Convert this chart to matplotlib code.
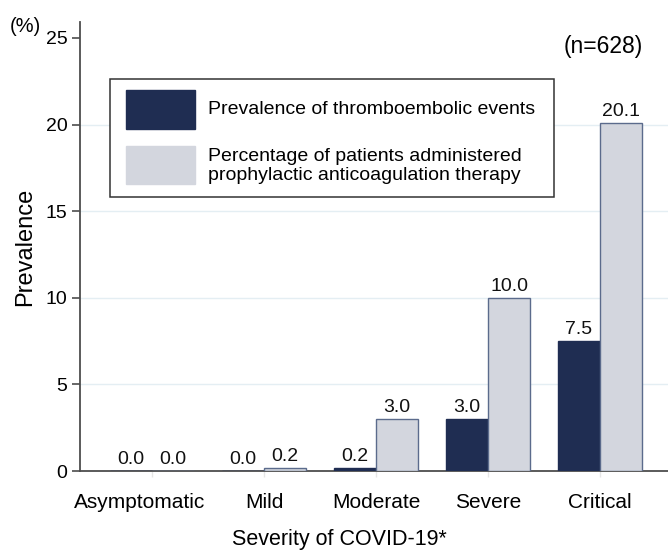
import numpy as np
import matplotlib
matplotlib.use("Agg")
import matplotlib.pyplot as plt
import matplotlib.transforms as mtransforms
from matplotlib.patches import Rectangle

plt.rcParams['font.family'] = ['Liberation Sans', 'DejaVu Sans']

# data
categories = ['Asymptomatic', 'Mild', 'Moderate', 'Severe', 'Critical']
thrombo = [0.0, 0.0, 0.2, 3.0, 7.5]
anticoag = [0.0, 0.2, 3.0, 10.0, 20.1]
yticks = [0, 5, 10, 15, 20, 25]
legend_labels = ['Prevalence of thromboembolic events',
                 'Percentage of patients administered\nprophylactic anticoagulation therapy']

dark = '#1f2d52'
light = '#d3d6de'
light_edge = '#5b6b8c'
axis_col = '#4d4d4d'

fig = plt.figure(figsize=(6.68, 5.5), dpi=100)
ax = fig.add_axes([80/668, 79/550, 588/668, 449/550])

x = np.arange(len(categories))
w = 0.375
b1 = ax.bar(x - w/2, thrombo, w, color=dark, edgecolor=dark, linewidth=1, zorder=3)
b2 = ax.bar(x + w/2, anticoag, w, color=light, edgecolor=light_edge, linewidth=1, zorder=3)

for bars, vals in [(b1, thrombo), (b2, anticoag)]:
    for r, v in zip(bars, vals):
        ax.annotate('%.1f' % v, (r.get_x() + r.get_width()/2, v),
                    xytext=(0, 5), textcoords='offset points',
                    ha='center', va='baseline', fontsize=14, color='#111111', zorder=4)

for t in yticks[1:-1]:
    ax.axhline(t, color='#e4eef3', lw=1, zorder=1)

ax.set_xlim(-0.643, 4.607)
ax.set_ylim(0, 25.92)
ax.set_yticks(yticks)
ax.set_xticks(x)
ax.set_xticklabels(categories, fontsize=15)
ax.tick_params(axis='y', labelsize=14, length=6, width=1.2, color=axis_col, pad=3)
ax.tick_params(axis='x', length=4, width=1, color='#e6e6e6', pad=12)

# the first category label sits a bit left of its tick in the original
lab0 = ax.get_xticklabels()[0]
lab0.set_transform(lab0.get_transform() + mtransforms.ScaledTranslation(-12/100, 0, fig.dpi_scale_trans))

for s in ['top', 'right']:
    ax.spines[s].set_visible(False)
for s in ['left', 'bottom']:
    ax.spines[s].set_color(axis_col)
    ax.spines[s].set_linewidth(1.3)

ax.set_ylabel('Prevalence', fontsize=17)
ax.yaxis.set_label_coords(-0.0935, 0.5)
ax.yaxis.label.set_va('center')
ax.set_xlabel('Severity of COVID-19*', fontsize=15.5)
ax.xaxis.set_label_coords((339-80)/588, (471-539)/449)
ax.xaxis.label.set_va('center')

fig.text(25/668, 1 - 26/550, '(%)', fontsize=14.5, ha='center', va='center')
fig.text(603/668, 1 - 46/550, '(n=628)', fontsize=16.5, ha='center', va='center')

# legend box
fig.add_artist(Rectangle((110/668, 1 - 197/550), 444/668, 118/550,
                         transform=fig.transFigure, facecolor='white',
                         edgecolor='#333333', lw=1.1, zorder=5))
fig.add_artist(Rectangle((126/668, 1 - 129/550), 69/668, 39/550,
                         transform=fig.transFigure, color=dark, zorder=6))
fig.add_artist(Rectangle((126/668, 1 - 184/550), 69/668, 38/550,
                         transform=fig.transFigure, color=light, zorder=6))
fig.text(208/668, 1 - 110/550, legend_labels[0], fontsize=14, va='center', zorder=7)
fig.text(208/668, 1 - 166/550, legend_labels[1], fontsize=14, va='center',
         linespacing=1.1, zorder=7)

fig.savefig('out.png', dpi=100)
